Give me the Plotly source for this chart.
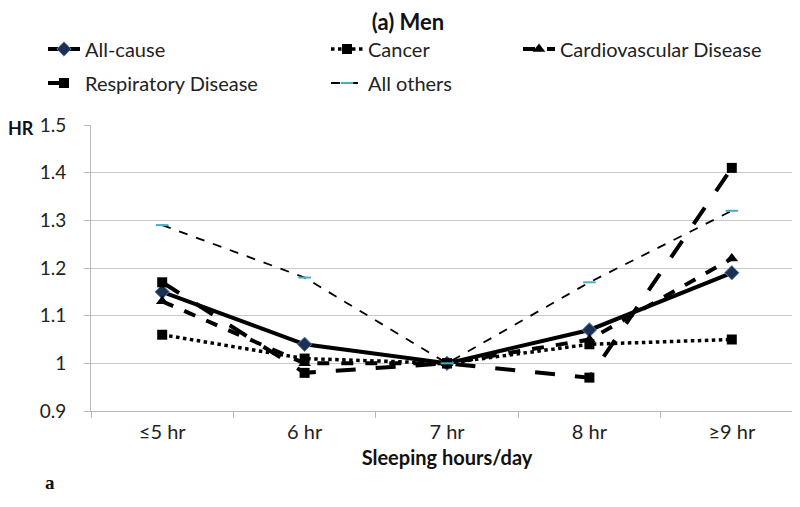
import plotly.graph_objects as go

# sleeping-hour categories and hazard ratios
hours = ["≤5 hr", "6 hr", "7 hr", "8 hr", "≥9 hr"]
all_cause = [1.15, 1.04, 1.00, 1.07, 1.19]
cancer = [1.06, 1.01, 1.00, 1.04, 1.05]
cardiovascular = [1.13, 1.00, 1.00, 1.05, 1.22]
respiratory = [1.17, 0.98, 1.00, 0.97, 1.41]
all_others = [1.29, 1.18, 1.00, 1.17, 1.32]

FONT = "Lato"

fig = go.Figure()

fig.add_trace(go.Scatter(
    x=hours, y=all_cause, name="All-cause", mode="lines+markers",
    line=dict(color="black", width=4),
    marker=dict(symbol="diamond", size=11, color="#1F2F4F",
                line=dict(color="#4F81BD", width=1)),
    legend="legend",
))
fig.add_trace(go.Scatter(
    x=hours, y=cancer, name="Cancer", mode="lines+markers",
    line=dict(color="black", width=3.5, dash="dot"),
    marker=dict(symbol="square", size=10, color="black"),
    legend="legend",
))
fig.add_trace(go.Scatter(
    x=hours, y=cardiovascular, name="Cardiovascular Disease", mode="lines+markers",
    line=dict(color="black", width=4, dash="dash"),
    marker=dict(symbol="triangle-up", size=11, color="black"),
    legend="legend3",
))
fig.add_trace(go.Scatter(
    x=hours, y=respiratory, name="Respiratory Disease", mode="lines+markers",
    line=dict(color="black", width=4, dash="longdash"),
    marker=dict(symbol="square", size=10, color="black"),
    legend="legend2",
))
fig.add_trace(go.Scatter(
    x=hours, y=all_others, name="All others", mode="lines+markers",
    line=dict(color="black", width=1.8, dash="dash"),
    marker=dict(symbol="line-ew", size=9, color="#4BACC6",
                line=dict(color="#4BACC6", width=2)),
    legend="legend2",
))

legend_common = dict(
    orientation="h", xref="container", yref="container",
    xanchor="left", yanchor="middle",
    entrywidth=236, entrywidthmode="pixels",
    font=dict(family=FONT, size=20, color="#222222"),
    bgcolor="rgba(0,0,0,0)", itemwidth=32,
)

fig.update_layout(
    width=800, height=507,
    margin=dict(l=83, r=5, t=117, b=104),
    paper_bgcolor="white", plot_bgcolor="white",
    font=dict(family=FONT, size=16, color="#222222"),
    title=dict(text="<b>(a) Men</b>", x=0.5, xanchor="center",
               y=1 - 14 / 507, yanchor="middle", yref="container",
               font=dict(family=FONT, size=22, color="#111111")),
    legend=dict(x=35 / 800, y=1 - 41 / 507, **legend_common),
    legend2=dict(x=35 / 800, y=1 - 75 / 507, **legend_common),
    legend3=dict(x=510 / 800, y=1 - 41 / 507, **legend_common),
    xaxis=dict(
        type="category", range=[-0.5, 4.5], showgrid=False,
        showline=True, linecolor="#B8B8B8", linewidth=1,
        ticks="outside", tickson="boundaries", ticklen=6, tickcolor="#B8B8B8",
        tickfont=dict(family=FONT, size=20, color="#222222"),
        ticklabelstandoff=3,
        title=dict(text="<b>Sleeping hours/day</b>", standoff=8,
                   font=dict(family=FONT, size=20, color="#111111")),
    ),
    yaxis=dict(
        range=[0.9, 1.5], dtick=0.1, tick0=0.9,
        showgrid=True, gridcolor="#C8C8C8", gridwidth=1,
        showline=True, linecolor="#B8B8B8", linewidth=1,
        ticks="outside", ticklen=6, tickcolor="#B8B8B8",
        tickfont=dict(family=FONT, size=19, color="#222222"),
        ticklabelstandoff=14, zeroline=False,
    ),
    annotations=[
        dict(text="<b>HR</b>", xref="paper", yref="paper", x=-85 / 712,
             y=1 - 3 / 286, xanchor="left", yanchor="middle", showarrow=False,
             font=dict(family=FONT, size=18, color="#111111")),
        dict(text="<b>a</b>", xref="paper", yref="paper", x=-48 / 712,
             y=-(474 - 403) / 286, xanchor="left", yanchor="middle",
             showarrow=False,
             font=dict(family="Liberation Serif", size=19, color="#111111")),
    ],
)

fig.write_html("out.html")
